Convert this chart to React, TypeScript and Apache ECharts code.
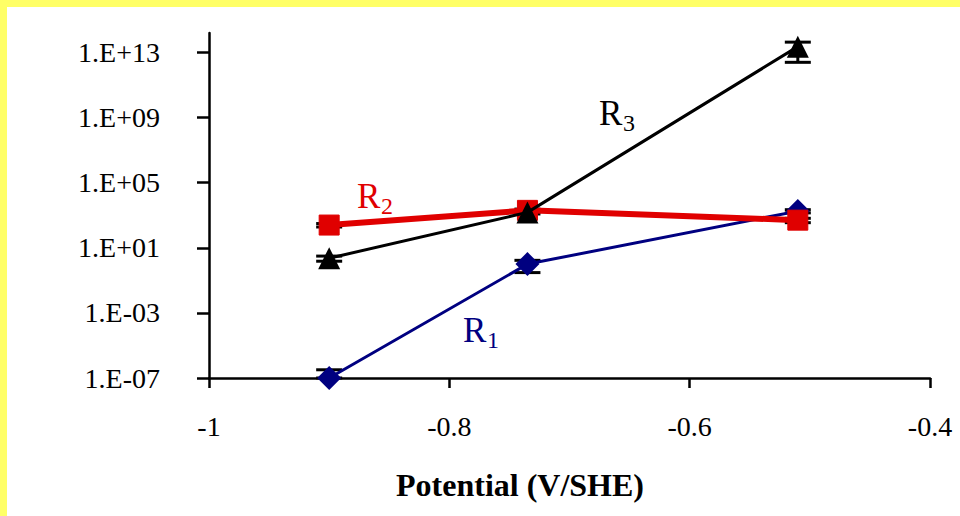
import React, { useEffect, useRef } from "react";
import * as echarts from "echarts";

const potentials = [-0.9, -0.735, -0.51];
const r1Values = [1e-7, 1.0, 1800];
const r1Errors = [2.2e-7, 0.7, 400];
const r2Values = [250, 2000, 500];
const r2Errors = [60, 400, 150];
const r3Values = [2.3, 1500, 2.3e13];
const r3Errors = [0.8, 300, 2.05e13];
const yTickExponents = [-7, -3, 1, 5, 9, 13];
const xTicks = [-1, -0.8, -0.6, -0.4];
const xTitle = "Potential (V/SHE)";

const Y_MIN = -7;
const Y_MAX = 14.2;

const serif = "'Liberation Serif', 'Times New Roman', serif";

function toLog(v: number) {
  return Math.log10(v);
}

function seriesData(vals: number[]) {
  return potentials.map((x, i) => [x, toLog(vals[i])]);
}

function errorData(vals: number[], errs: number[]) {
  return potentials.map((x, i) => {
    const lo = vals[i] - errs[i];
    const hi = vals[i] + errs[i];
    return [x, lo > 0 ? Math.max(toLog(lo), Y_MIN) : Y_MIN, Math.min(toLog(hi), Y_MAX)];
  });
}

function fmtExp(v: number) {
  const e = Math.round(v);
  const s = Math.abs(e) < 10 ? "0" + Math.abs(e) : String(Math.abs(e));
  return "1.E" + (e < 0 ? "-" : "+") + s;
}

function fmtX(v: number) {
  const r = Math.round(v * 10) / 10;
  return String(r);
}

const errorRender = (params: any, api: any) => {
  const x = api.value(0);
  const lo = api.coord([x, api.value(1)]);
  const hi = api.coord([x, api.value(2)]);
  const half = 13;
  const style = { stroke: "#000", lineWidth: 3 };
  return {
    type: "group",
    children: [
      { type: "line", shape: { x1: lo[0], y1: lo[1], x2: hi[0], y2: hi[1] }, style },
      { type: "line", shape: { x1: lo[0] - half, y1: lo[1], x2: lo[0] + half, y2: lo[1] }, style },
      { type: "line", shape: { x1: hi[0] - half, y1: hi[1], x2: hi[0] + half, y2: hi[1] }, style },
    ],
  };
};

function rLabel(x: number, y: number, sub: string, color: string) {
  return {
    type: "group",
    x,
    y,
    children: [
      { type: "text", x: 0, y: 0, style: { text: "R", fill: color, font: `35px ${serif}` } },
      { type: "text", x: 24, y: 15, style: { text: sub, fill: color, font: `24px ${serif}` } },
    ],
  };
}

export default function App() {
  const ref = useRef<HTMLDivElement>(null);
  useEffect(() => {
    if (!ref.current) return;
    const chart = echarts.init(ref.current, null, { renderer: "svg" });
    chart.setOption({
      animation: false,
      backgroundColor: "#ffffff",
      grid: { left: 209, right: 30, top: 33, bottom: 138 },
      xAxis: {
        type: "value",
        min: -1,
        max: -0.4,
        interval: 0.2,
        splitLine: { show: false },
        axisLine: { onZero: false, lineStyle: { color: "#000", width: 2.5 } },
        axisTick: { show: true, inside: false, length: 10, lineStyle: { color: "#000", width: 2.5 } },
        axisLabel: {
          margin: 34,
          color: "#000",
          fontFamily: serif,
          fontSize: 28,
          formatter: (v: number) => fmtX(v),
          customValues: xTicks,
        },
      },
      yAxis: {
        type: "value",
        min: Y_MIN,
        max: Y_MAX,
        splitLine: { show: false },
        axisLine: { show: true, onZero: false, lineStyle: { color: "#000", width: 2.5 } },
        axisTick: {
          show: true,
          inside: false,
          length: 12,
          lineStyle: { color: "#000", width: 2.5 },
          customValues: yTickExponents,
        },
        axisLabel: {
          margin: 49,
          color: "#000",
          fontFamily: serif,
          fontSize: 28,
          formatter: (v: number) => fmtExp(v),
          customValues: yTickExponents,
        },
      },
      series: [
        {
          type: "custom",
          name: "R1 err",
          renderItem: errorRender,
          data: errorData(r1Values, r1Errors),
          z: 1,
          silent: true,
        },
        {
          type: "custom",
          name: "R2 err",
          renderItem: errorRender,
          data: errorData(r2Values, r2Errors),
          z: 1,
          silent: true,
        },
        {
          type: "custom",
          name: "R3 err",
          renderItem: errorRender,
          data: errorData(r3Values, r3Errors),
          z: 1,
          silent: true,
        },
        {
          type: "line",
          name: "R1",
          data: seriesData(r1Values),
          symbol: "diamond",
          symbolSize: 24,
          lineStyle: { color: "#000080", width: 3 },
          itemStyle: { color: "#000080" },
          z: 2,
        },
        {
          type: "line",
          name: "R2",
          data: seriesData(r2Values),
          symbol: "rect",
          symbolSize: 20,
          lineStyle: { color: "#E00000", width: 6 },
          itemStyle: { color: "#E00000", borderColor: "#E00000", borderWidth: 1, borderJoin: "round" },
          z: 3,
        },
        {
          type: "line",
          name: "R3",
          data: seriesData(r3Values),
          symbol: "triangle",
          symbolSize: 22,
          lineStyle: { color: "#000", width: 3 },
          itemStyle: { color: "#000" },
          z: 4,
        },
      ],
      graphic: [
        { type: "rect", shape: { x: 0, y: 0, width: 960, height: 7 }, style: { fill: "#FFFF66" }, z: 10 },
        { type: "rect", shape: { x: 0, y: 0, width: 7, height: 516 }, style: { fill: "#FFFF66" }, z: 10 },
        {
          type: "text",
          x: 520,
          y: 485,
          style: {
            text: xTitle,
            fill: "#000",
            font: `bold 32px ${serif}`,
            textAlign: "center",
            textVerticalAlign: "middle",
          },
        },
        rLabel(599, 96, "3", "#000"),
        rLabel(357, 179, "2", "#E00000"),
        rLabel(463, 313, "1", "#000080"),
      ],
    });
    return () => chart.dispose();
  }, []);
  return <div ref={ref} style={{ position: "absolute", left: 0, top: 0, width: 960, height: 516 }} />;
}
